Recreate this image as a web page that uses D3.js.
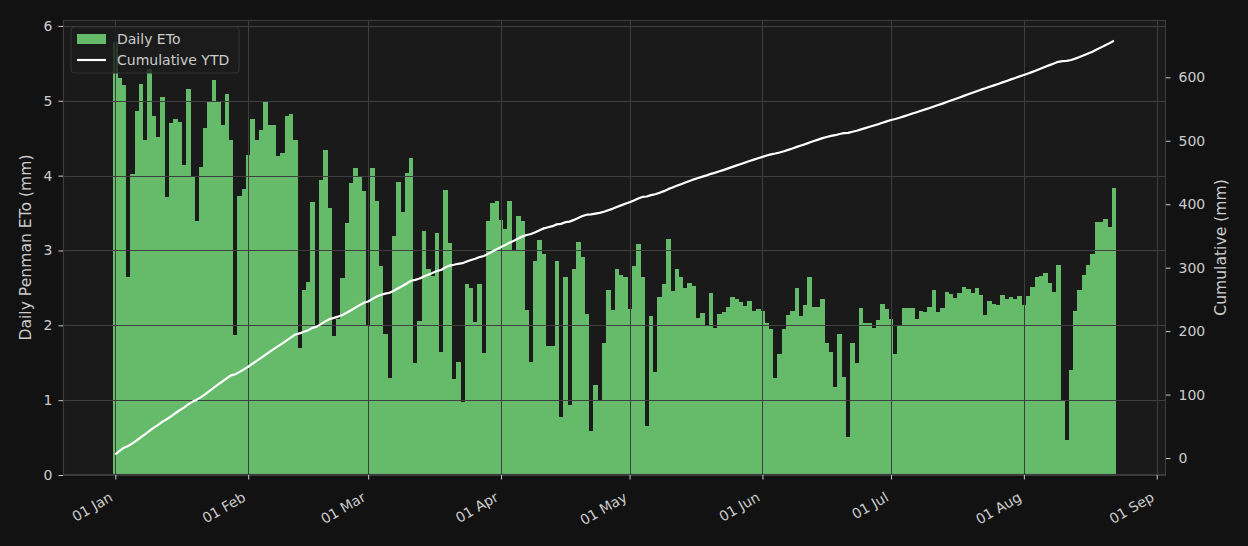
<!DOCTYPE html>
<html>
<head>
<meta charset="utf-8">
<script src="https://cdn.jsdelivr.net/npm/d3@7"></script>
<style>
  html, body { margin: 0; padding: 0; background: #121212; }
  svg { display: block; font-family: "DejaVu Sans", sans-serif; }
</style>
</head>
<body>
<div id="chart"></div>
<script>
// daily ETo, one value per day starting 01 Jan 2025
var startDate = "2025-01-01";
var dailyEto = [
  5.79, 5.30, 5.21, 2.64, 4.02, 4.87, 5.23, 4.47, 5.42, 4.80,
  4.51, 5.05, 3.72, 4.70, 4.76, 4.72, 4.14, 5.16, 4.00, 3.40,
  4.11, 4.63, 4.99, 5.28, 4.99, 4.68, 5.09, 4.47, 1.87, 3.73,
  3.82, 4.28, 4.76, 4.47, 4.61, 4.99, 4.67, 4.68, 4.26, 4.30,
  4.80, 4.82, 4.48, 1.70, 2.47, 2.58, 3.65, 2.00, 3.94, 4.34,
  3.57, 1.86, 2.08, 2.63, 3.37, 3.90, 4.10, 3.99, 3.80, 2.01,
  4.10, 3.66, 2.79, 1.88, 1.29, 3.20, 3.91, 3.52, 4.03, 4.24,
  1.49, 2.06, 3.26, 2.75, 2.66, 3.23, 1.64, 3.81, 3.10, 1.28,
  1.51, 0.97, 2.55, 2.50, 2.05, 2.55, 1.63, 3.40, 3.64, 3.66,
  3.41, 3.29, 3.66, 3.00, 3.46, 3.40, 2.21, 1.51, 2.86, 3.14,
  2.95, 1.72, 1.72, 2.86, 0.77, 2.64, 0.93, 2.75, 3.11, 2.91,
  2.15, 0.59, 1.20, 1.00, 1.77, 2.47, 2.21, 2.75, 2.67, 2.64,
  2.22, 2.79, 3.09, 2.64, 0.65, 2.13, 1.37, 2.38, 2.55, 3.16,
  2.46, 2.75, 2.64, 2.50, 2.57, 2.52, 2.10, 2.17, 1.99, 2.43,
  1.97, 2.15, 2.18, 2.24, 2.38, 2.35, 2.31, 2.26, 2.33, 2.19,
  2.22, 2.19, 2.03, 1.95, 1.30, 1.62, 1.95, 2.14, 2.19, 2.50,
  2.12, 2.27, 2.64, 2.24, 2.25, 2.35, 1.76, 1.64, 1.17, 1.89,
  1.31, 0.51, 1.76, 1.49, 2.23, 2.03, 2.03, 1.96, 2.07, 2.29,
  2.22, 2.09, 1.62, 1.99, 2.23, 2.23, 2.23, 2.09, 2.19, 2.18,
  2.25, 2.47, 2.18, 2.23, 2.45, 2.42, 2.36, 2.43, 2.51, 2.49,
  2.43, 2.50, 2.41, 2.14, 2.33, 2.29, 2.27, 2.41, 2.35, 2.38,
  2.35, 2.39, 2.27, 2.39, 2.51, 2.65, 2.66, 2.70, 2.57, 2.45,
  2.81, 1.00, 0.47, 1.40, 2.19, 2.47, 2.67, 2.81, 2.95, 3.38,
  3.38, 3.42, 3.31, 3.84
];
var monthTicks = ["2025-01-01", "2025-02-01", "2025-03-01", "2025-04-01",
  "2025-05-01", "2025-06-01", "2025-07-01", "2025-08-01", "2025-09-01"];
var leftTicks = [0, 1, 2, 3, 4, 5, 6];
var rightTicks = [0, 100, 200, 300, 400, 500, 600];

var svgWidth = 1248;
var svgHeight = 546;
var margin = { top: 20, right: 82, bottom: 71, left: 63 };
var width = svgWidth - margin.left - margin.right;
var height = svgHeight - margin.top - margin.bottom;

var parse = d3.utcParse("%Y-%m-%d");
var day0 = parse(startDate);
var dates = dailyEto.map((d, i) => d3.utcDay.offset(day0, i));
var cumulative = Array.from(d3.cumsum(dailyEto));
var data = dates.map((d, i) => ({ date: d, eto: dailyEto[i], cum: cumulative[i] }));

var svg = d3.select("#chart")
  .append("svg")
  .attr("width", svgWidth)
  .attr("height", svgHeight);

svg.append("rect")
  .attr("width", svgWidth)
  .attr("height", svgHeight)
  .attr("fill", "#121212");

var chartGroup = svg.append("g")
  .attr("transform", `translate(${margin.left}, ${margin.top})`);

chartGroup.append("rect")
  .attr("width", width)
  .attr("height", height)
  .attr("fill", "#1a1a1a");

// x: bars 1 day wide, 5% padding like matplotlib
var n = dailyEto.length;
var pad = n * 0.05;
var xScale = d3.scaleUtc()
  .domain([d3.utcHour.offset(day0, (-0.5 - pad) * 24), d3.utcHour.offset(day0, (n - 0.5 + pad) * 24)])
  .range([0, width]);

var etoMax = d3.max(dailyEto);
var yLeft = d3.scaleLinear()
  .domain([0, etoMax * 1.05])
  .range([height, 0]);

var cumExt = d3.extent(cumulative);
var cumPad = (cumExt[1] - cumExt[0]) * 0.05;
var yRight = d3.scaleLinear()
  .domain([cumExt[0] - cumPad, cumExt[1] + cumPad])
  .range([height, 0]);

// bars
chartGroup.selectAll("rect.bar")
  .data(data)
  .enter()
  .append("rect")
  .attr("class", "bar")
  .attr("x", d => xScale(d3.utcHour.offset(d.date, -12)))
  .attr("width", d => xScale(d3.utcHour.offset(d.date, 12)) - xScale(d3.utcHour.offset(d.date, -12)) + 0.3)
  .attr("y", d => yLeft(d.eto))
  .attr("height", d => height - yLeft(d.eto))
  .attr("fill", "#66bb6a")
  .attr("shape-rendering", "crispEdges");

// grid on top of bars
var grid = chartGroup.append("g").attr("stroke", "#3e3e3e").attr("stroke-width", 1);
grid.selectAll("line.h")
  .data(leftTicks)
  .enter()
  .append("line")
  .attr("x1", 0).attr("x2", width)
  .attr("y1", d => Math.round(yLeft(d)) + 0.5)
  .attr("y2", d => Math.round(yLeft(d)) + 0.5);
grid.selectAll("line.v")
  .data(monthTicks.map(parse))
  .enter()
  .append("line")
  .attr("y1", 0).attr("y2", height)
  .attr("x1", d => Math.round(xScale(d)) + 0.5)
  .attr("x2", d => Math.round(xScale(d)) + 0.5);

// cumulative line
chartGroup.append("path")
  .datum(data)
  .attr("fill", "none")
  .attr("stroke", "#ffffff")
  .attr("stroke-width", 2.2)
  .attr("stroke-linejoin", "round")
  .attr("d", d3.line().x(d => xScale(d.date)).y(d => yRight(d.cum)));

// frame
chartGroup.append("rect")
  .attr("x", 0.5).attr("y", 0.5)
  .attr("width", width - 1).attr("height", height - 1)
  .attr("fill", "none")
  .attr("stroke", "#3a3a3a")
  .attr("stroke-width", 1.2);

// axes
var fmt = d3.utcFormat("%d %b");
var bottomAxis = d3.axisBottom(xScale)
  .tickValues(monthTicks.map(parse))
  .tickFormat(fmt)
  .tickSize(4.5)
  .tickPadding(3);
var leftAxis = d3.axisLeft(yLeft).tickValues(leftTicks).tickFormat(d3.format("d")).tickSize(4.5).tickPadding(6);
var rightAxis = d3.axisRight(yRight).tickValues(rightTicks).tickFormat(d3.format("d")).tickSize(4.5).tickPadding(8);

function styleAxis(g) {
  g.attr("font-family", "DejaVu Sans, sans-serif");
  g.select(".domain").remove();
  g.selectAll(".tick line").attr("stroke", "#cccccc").attr("stroke-width", 1);
  g.selectAll(".tick text").attr("fill", "#cccccc").style("font-size", "14px");
}

var xg = chartGroup.append("g")
  .attr("transform", `translate(0, ${height})`)
  .call(bottomAxis)
  .call(styleAxis);
xg.selectAll(".tick text")
  .attr("text-anchor", "end")
  .attr("dy", null)
  .attr("y", 0)
  .attr("transform", "translate(-2, 25) rotate(-30)");

chartGroup.append("g")
  .call(leftAxis)
  .call(styleAxis);

chartGroup.append("g")
  .attr("transform", `translate(${width}, 0)`)
  .call(rightAxis)
  .call(styleAxis);

// axis titles
svg.append("text")
  .attr("transform", `translate(31, ${margin.top + height / 2}) rotate(-90)`)
  .attr("text-anchor", "middle")
  .attr("fill", "#cccccc")
  .style("font-size", "15.6px")
  .text("Daily Penman ETo (mm)");

svg.append("text")
  .attr("transform", `translate(1226, ${margin.top + height / 2}) rotate(-90)`)
  .attr("text-anchor", "middle")
  .attr("fill", "#cccccc")
  .style("font-size", "15.6px")
  .text("Cumulative (mm)");

// legend
var legend = svg.append("g").attr("transform", "translate(71, 27)");
legend.append("rect")
  .attr("width", 168).attr("height", 46)
  .attr("rx", 3)
  .attr("fill", "#1c1c1c")
  .attr("fill-opacity", 0.8)
  .attr("stroke", "#333333");
legend.append("rect")
  .attr("x", 6).attr("y", 7)
  .attr("width", 29).attr("height", 10)
  .attr("fill", "#66bb6a");
legend.append("line")
  .attr("x1", 6).attr("x2", 35)
  .attr("y1", 33).attr("y2", 33)
  .attr("stroke", "#ffffff")
  .attr("stroke-width", 2.2);
legend.append("text")
  .attr("x", 46).attr("y", 12)
  .attr("dy", "0.35em")
  .attr("fill", "#cccccc")
  .style("font-size", "14px")
  .text("Daily ETo");
legend.append("text")
  .attr("x", 46).attr("y", 33)
  .attr("dy", "0.35em")
  .attr("fill", "#cccccc")
  .style("font-size", "14px")
  .text("Cumulative YTD");
</script>
</body>
</html>
